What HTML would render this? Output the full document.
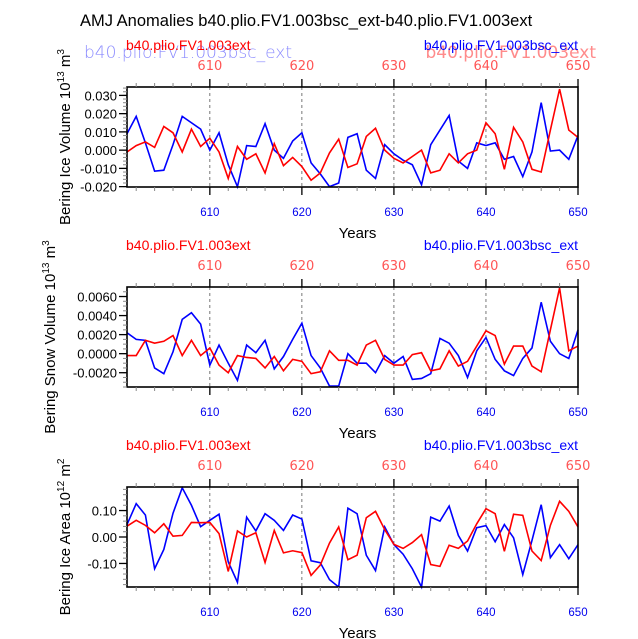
<!DOCTYPE html>
<html><head><meta charset="utf-8"><style>
body{margin:0;background:#fff}
svg{display:block;font-family:"Liberation Sans",sans-serif}
</style></head><body>
<svg id="chart" width="638" height="639">
<text x="80" y="26" font-size="16.5" fill="#000">AMJ Anomalies b40.plio.FV1.003bsc_ext-b40.plio.FV1.003ext</text>
<text x="84" y="58" font-size="17" fill="#7777ff" font-family="DejaVu Sans, sans-serif" font-weight="200" opacity="0.85">b40.plio.FV1.003bsc_ext</text>
<text x="596" y="58" font-size="17" fill="#ff7777" font-family="DejaVu Sans, sans-serif" text-anchor="end" opacity="0.85">b40.plio.FV1.003ext</text>
</svg>
<script>
const years=[];for(let y=601;y<=650;y++)years.push(y);
const iceVolBlue=[0.009,0.0185,0.004,-0.0115,-0.011,0.003,0.0185,0.015,0.0115,0.0,0.0095,-0.008,-0.020,0.0025,0.002,0.0145,0.0,-0.0045,0.005,0.0095,-0.007,-0.013,-0.020,-0.018,0.007,0.009,-0.011,-0.0155,0.003,-0.002,-0.0055,-0.008,-0.019,0.003,0.011,0.019,-0.006,-0.010,0.004,0.0025,0.004,-0.005,-0.0035,-0.0145,-0.001,0.026,-0.0005,0.0,-0.005,0.008];
const iceVolRed=[-0.001,0.0025,0.0045,0.0015,0.013,0.0095,-0.001,0.0115,0.002,0.0065,-0.001,-0.0155,0.002,-0.005,-0.002,-0.0125,0.0035,-0.0085,-0.004,-0.009,-0.0165,-0.0125,-0.0015,0.006,-0.0095,-0.0075,0.0075,0.012,0.0,-0.0045,-0.007,-0.0035,0.0,-0.0125,-0.011,-0.002,-0.007,-0.002,0.0,0.015,0.009,-0.0105,0.0125,0.0045,-0.0105,-0.012,0.011,0.0335,0.011,0.007];
const snowBlue=[0.0022,0.0015,0.0014,-0.0015,-0.0021,0.0002,0.0036,0.0043,0.0031,-0.0012,0.0009,-0.001,-0.0028,0.0009,0.0001,0.0014,-0.0016,-0.0003,0.0015,0.0032,-0.0002,-0.0015,-0.0034,-0.0034,0.0,-0.001,-0.001,-0.002,-0.0002,-0.001,-0.0003,-0.0027,-0.0026,-0.0021,0.0016,0.0011,-0.0002,-0.0025,0.0003,0.0017,-0.0006,-0.0018,-0.0023,-0.0005,0.0006,0.0054,0.0013,0.0,-0.0005,0.0025];
const snowRed=[-0.0002,-0.0002,0.0014,0.0011,0.0013,0.0019,-0.0002,0.0014,-0.0002,0.0006,-0.0012,-0.002,-0.0002,-0.0004,-0.0005,-0.0015,-0.0003,-0.0018,-0.0006,-0.0008,-0.0021,-0.0019,0.0003,-0.0007,-0.0007,-0.0012,0.0009,0.0014,-0.0006,-0.0012,-0.0012,-0.0001,0.0001,-0.0018,-0.0016,0.0003,-0.0013,-0.0008,0.0008,0.0024,0.0019,-0.0011,0.0008,0.0008,-0.0013,-0.0019,0.0025,0.0069,0.0003,0.0008];
const areaBlue=[0.047,0.126,0.083,-0.12,-0.047,0.09,0.186,0.12,0.039,0.063,0.086,-0.094,-0.171,0.075,0.023,0.088,0.063,0.025,0.083,0.068,-0.09,-0.097,-0.161,-0.189,0.109,0.088,-0.069,-0.127,0.038,-0.029,-0.065,-0.12,-0.189,0.075,0.06,0.117,0.006,-0.053,0.035,0.043,-0.018,0.047,-0.003,-0.142,-0.013,0.122,-0.078,-0.029,-0.082,-0.029];
const areaRed=[0.041,0.063,0.044,0.016,0.05,0.003,0.006,0.055,0.054,0.055,0.013,-0.13,0.023,0,0.016,-0.096,0.025,-0.06,-0.052,-0.059,-0.145,-0.106,-0.023,0.038,-0.086,-0.069,0.073,0.097,0.028,-0.028,-0.043,-0.021,0.009,-0.104,-0.111,-0.031,-0.043,-0.015,0.05,0.107,0.088,-0.054,0.086,0.082,-0.053,-0.089,0.044,0.135,0.097,0.038];
const xTicks=[610,620,630,640,650];
const tick1=["0.030","0.020","0.010","0.000","-0.010","-0.020"];
const tick2=["0.0060","0.0040","0.0020","0.0000","-0.0020"];
const tick3=["0.10","0.00","-0.10"];

const svg=document.getElementById('chart');
const NS='http://www.w3.org/2000/svg';
function mk(tag,attrs,parent){const e=document.createElementNS(NS,tag);for(const k in attrs)e.setAttribute(k,attrs[k]);(parent||svg).appendChild(e);return e;}
const L=127,R=578;
const xs=v=>L+(v-601)/(650-601)*(R-L);

const panels=[
 {top:87,ymin:-0.0202,ymax:0.0346,ticks:tick1,minor:0.002,blue:iceVolBlue,red:iceVolRed,label:'Bering Ice Volume 10',sup:'13',unit:' m',usup:'3',lx:70,name:'ice-volume',topLabels:false},
 {top:287,ymin:-0.0035,ymax:0.0070,ticks:tick2,minor:0.0005,blue:snowBlue,red:snowRed,label:'Bering Snow Volume 10',sup:'13',unit:' m',usup:'3',lx:55,name:'snow-volume',topLabels:true},
 {top:487,ymin:-0.189,ymax:0.189,ticks:tick3,minor:0.02,blue:areaBlue,red:areaRed,label:'Bering Ice Area 10',sup:'12',unit:' m',usup:'2',lx:70,name:'ice-area',topLabels:true}
];
panels.forEach((p,pi)=>{
 const T=p.top,B=T+100;
 const ys=v=>B-(v-p.ymin)/(p.ymax-p.ymin)*(B-T);
 const g=mk('g',{});
 
 
 // dashed grid
 xTicks.slice(0,4).forEach(t=>{const l=mk('line',{x1:xs(t),x2:xs(t),y1:T,y2:B,stroke:'#555','stroke-width':0.8,'stroke-dasharray':'3,3'},g);
  });
 // lines
 [['blue',p.blue,'#0000ff'],['red',p.red,'#ff0000']].forEach(([n,arr,c])=>{
  const pl=mk('polyline',{points:arr.map((v,i)=>xs(years[i])+','+ys(v)).join(' '),fill:'none',stroke:c,'stroke-width':1.6},g);
  
 });
 const fr=mk('rect',{x:L,y:T,width:R-L,height:B-T,fill:'none',stroke:'#000','stroke-width':1.6},g);
 
 // x ticks
 for(let yr=602;yr<=650;yr+=2){const maj=yr%10===0;const len=maj?8:4;
  mk('line',{x1:xs(yr),x2:xs(yr),y1:B,y2:B+len,stroke:maj?'#000':'#888','stroke-width':maj?1.3:1},g);
  mk('line',{x1:xs(yr),x2:xs(yr),y1:T,y2:T-len,stroke:maj?'#000':'#888','stroke-width':maj?1.3:1},g);}
 xTicks.forEach(t=>{
  const a=mk('text',{x:xs(t),y:B+29,'font-size':11.5,fill:'#0000ee','text-anchor':'middle'},g);a.textContent=t;
  
  const b=mk('text',{x:xs(t),y:T-17,'font-size':13,fill:'#ff5555','text-anchor':'middle','font-family':'DejaVu Sans, sans-serif'},g);b.textContent=t;
  
 });
 const yl=mk('text',{x:(L+R)/2+5,y:B+51,'font-size':15,fill:'#000','text-anchor':'middle'},g);yl.textContent='Years';
 
 if(p.topLabels){
  const r=mk('text',{x:126,y:T-37,'font-size':14,fill:'#ff0000'},g);r.textContent='b40.plio.FV1.003ext';
  
  const bl=mk('text',{x:R,y:T-37,'font-size':14,fill:'#0000ff','text-anchor':'end'},g);bl.textContent='b40.plio.FV1.003bsc_ext';
  
 }
 // y ticks
 for(let v=Math.ceil(p.ymin/p.minor)*p.minor;v<=p.ymax;v+=p.minor){
  mk('line',{x1:L,x2:L-4,y1:ys(v),y2:ys(v),stroke:'#888','stroke-width':1},g);}
 p.ticks.forEach(s=>{const v=parseFloat(s);
  mk('line',{x1:L,x2:L-8,y1:ys(v),y2:ys(v),stroke:'#000','stroke-width':1.3},g);
  const t=mk('text',{x:L-10,y:ys(v)+5,'font-size':13,fill:'#000','text-anchor':'end'},g);t.textContent=s;
  });
 const cy=(T+B)/2;
 const at=mk('text',{x:p.lx,y:cy,'font-size':15,fill:'#000','text-anchor':'middle',transform:`rotate(-90 ${p.lx} ${cy})`},g);
 
 at.innerHTML=p.label+'<tspan font-size="10" dy="-6">'+p.sup+'</tspan><tspan dy="6">'+p.unit+'</tspan><tspan font-size="10" dy="-6">'+p.usup+'</tspan>';
});
// panel1 bold labels
const r1=mk('text',{x:126,y:50,'font-size':14,fill:'#ff0000'});r1.textContent='b40.plio.FV1.003ext';


const b1=mk('text',{x:578,y:50,'font-size':14,fill:'#0000ff','text-anchor':'end'});b1.textContent='b40.plio.FV1.003bsc_ext';


</script>
</body></html>
